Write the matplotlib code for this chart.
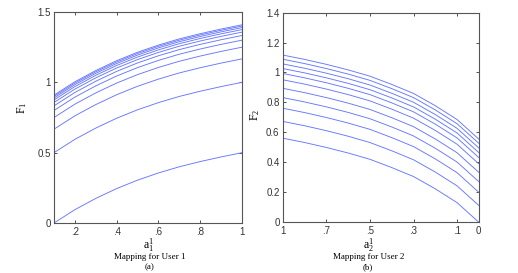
import numpy as np
import matplotlib
matplotlib.use("Agg")
import matplotlib.pyplot as plt

# user 1: a_1^1 on the x axis
a1 = [0.1, 0.2, 0.3, 0.4, 0.5, 0.6, 0.7, 0.8, 0.9, 1.0]
F1 = [
    [0.000, 0.095, 0.175, 0.245, 0.305, 0.356, 0.400, 0.437, 0.470, 0.500],
    [0.500, 0.595, 0.675, 0.745, 0.805, 0.856, 0.900, 0.937, 0.970, 1.000],
    [0.667, 0.762, 0.842, 0.912, 0.972, 1.023, 1.067, 1.104, 1.137, 1.167],
    [0.750, 0.845, 0.925, 0.995, 1.055, 1.106, 1.150, 1.187, 1.220, 1.250],
    [0.800, 0.895, 0.975, 1.045, 1.105, 1.156, 1.200, 1.237, 1.270, 1.300],
    [0.833, 0.928, 1.008, 1.078, 1.138, 1.189, 1.233, 1.270, 1.303, 1.333],
    [0.857, 0.952, 1.032, 1.102, 1.162, 1.213, 1.257, 1.294, 1.327, 1.357],
    [0.875, 0.970, 1.050, 1.120, 1.180, 1.231, 1.275, 1.312, 1.345, 1.375],
    [0.889, 0.984, 1.064, 1.134, 1.194, 1.245, 1.289, 1.326, 1.359, 1.389],
    [0.900, 0.995, 1.075, 1.145, 1.205, 1.256, 1.300, 1.337, 1.370, 1.400],
    [0.909, 1.004, 1.084, 1.154, 1.214, 1.265, 1.309, 1.346, 1.379, 1.409],
]
a1_ticks = [0.2, 0.4, 0.6, 0.8, 1.0]
a1_labels = [".2", ".4", ".6", ".8", "1"]

# user 2: mapped a_2^1, plotted against sample index
steps2 = list(range(10))
F2 = [
    [0.561, 0.532, 0.499, 0.462, 0.420, 0.365, 0.305, 0.223, 0.131, 0.000],
    [0.673, 0.644, 0.611, 0.574, 0.532, 0.477, 0.417, 0.335, 0.243, 0.112],
    [0.761, 0.732, 0.699, 0.662, 0.620, 0.565, 0.505, 0.423, 0.331, 0.200],
    [0.832, 0.803, 0.770, 0.733, 0.691, 0.636, 0.576, 0.494, 0.402, 0.271],
    [0.894, 0.865, 0.832, 0.795, 0.753, 0.698, 0.638, 0.556, 0.464, 0.333],
    [0.951, 0.922, 0.889, 0.852, 0.810, 0.755, 0.695, 0.613, 0.521, 0.390],
    [0.993, 0.964, 0.931, 0.894, 0.852, 0.797, 0.737, 0.655, 0.563, 0.432],
    [1.026, 0.997, 0.964, 0.927, 0.885, 0.830, 0.770, 0.688, 0.596, 0.465],
    [1.057, 1.028, 0.995, 0.958, 0.916, 0.861, 0.801, 0.719, 0.627, 0.496],
    [1.088, 1.059, 1.026, 0.989, 0.947, 0.892, 0.832, 0.750, 0.658, 0.527],
    [1.116, 1.087, 1.054, 1.017, 0.975, 0.920, 0.860, 0.778, 0.686, 0.555],
]
a2_ticks = [0, 2, 4, 6, 8, 9]
a2_labels = ["1", ".7", ".5", ".3", ".1", "0"]

line_color = "#6676ff"
serif = "Liberation Serif"

plt.rcParams["font.family"] = "Liberation Sans"
plt.rcParams["mathtext.fontset"] = "custom"
plt.rcParams["mathtext.rm"] = serif
plt.rcParams["mathtext.it"] = serif
fig = plt.figure(figsize=(5.18, 2.73), dpi=100)
ax1 = fig.add_axes([0.1042, 0.183, 0.363, 0.773])
ax2 = fig.add_axes([0.5463, 0.186, 0.378, 0.768])


def style(ax):
    ax.tick_params(direction="in", top=True, right=True, labelsize=7,
                   length=2.5, width=0.6, colors="#333333", pad=2.5)
    for s in ax.spines.values():
        s.set_color("#555555")
        s.set_linewidth(0.8)


for row in F1:
    ax1.plot(a1, row, color=line_color, lw=0.65)
ax1.set_xlim(0.1, 1.0)
ax1.set_ylim(0, 1.5)
ax1.set_xticks(a1_ticks)
ax1.set_xticklabels(a1_labels)
ax1.set_yticks([0, 0.5, 1, 1.5])
ax1.set_yticklabels(["0", "0.5", "1", "1.5"])
style(ax1)

for row in F2:
    ax2.plot(steps2, row, color=line_color, lw=0.65)
ax2.set_xlim(0, 9)
ax2.set_ylim(0, 1.4)
ax2.set_xticks(a2_ticks)
ax2.set_xticklabels(a2_labels)
ax2.set_yticks(np.arange(0, 1.41, 0.2))
ax2.set_yticklabels(["0", "0.2", "0.4", "0.6", "0.8", "1", "1.2", "1.4"])
style(ax2)

fig.text(0.043, 0.605, r"F$_1$", family=serif, fontsize=8.5, rotation=90,
         ha="center", va="center")
fig.text(0.493, 0.58, r"F$_2$", family=serif, fontsize=8.5, rotation=90,
         ha="center", va="center")

fig.text(0.287, 0.103, r"a$_1^1$", family=serif, fontsize=8.5, ha="center", va="center")
fig.text(0.289, 0.057, "Mapping for User 1", family=serif, fontsize=6.5, ha="center", va="center")
fig.text(0.289, 0.021, "(a)", family=serif, fontsize=6.5, ha="center", va="center")

fig.text(0.711, 0.103, r"a$_2^1$", family=serif, fontsize=8.5, ha="center", va="center")
fig.text(0.711, 0.057, "Mapping for User 2", family=serif, fontsize=6.5, ha="center", va="center")
fig.text(0.711, 0.021, "(b)", family=serif, fontsize=6.5, ha="center", va="center")

fig.savefig("out.png", dpi=100)
